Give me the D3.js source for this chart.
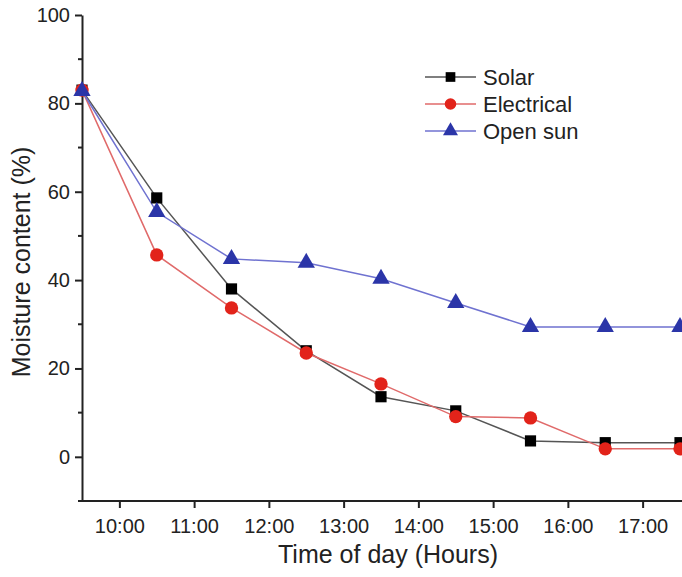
<!DOCTYPE html>
<html>
<head>
<meta charset="utf-8">
<script src="https://cdn.jsdelivr.net/npm/d3@7"></script>
<style>
  body { margin: 0; background: #fff; }
  svg { font-family: "Liberation Sans", Arial, sans-serif; }
</style>
</head>
<body>
<div id="chart"></div>
<script>
// data
var hours = [9.5, 10.5, 11.5, 12.5, 13.5, 14.5, 15.5, 16.5, 17.5];
var solar = [83, 58.6, 38, 24, 13.6, 10.4, 3.6, 3.2, 3.2];
var electrical = [83, 45.7, 33.7, 23.5, 16.5, 9.1, 8.8, 1.8, 1.8];
var openSun = [82.8, 55.4, 44.8, 43.9, 40.3, 34.8, 29.4, 29.4, 29.4];
var xTicks = [10, 11, 12, 13, 14, 15, 16, 17];
var xTickLabels = ["10:00", "11:00", "12:00", "13:00", "14:00", "15:00", "16:00", "17:00"];
var yTicks = [0, 20, 40, 60, 80, 100];
var yMinor = [-10, 10, 30, 50, 70, 90];

var series = [
  { name: "Solar", values: solar, line: "#555", fill: "#000", shape: d3.symbolSquare, size: 125 },
  { name: "Electrical", values: electrical, line: "#e06a6a", fill: "#e2231a", shape: d3.symbolCircle, size: 140 },
  { name: "Open sun", values: openSun, line: "#6f72d0", fill: "#2b35a8", shape: d3.symbolTriangle, size: 130 }
];

var width = 682, height = 577;
var margin = { top: 15, right: 2, bottom: 76, left: 82 };

var svg = d3.select("#chart").append("svg")
  .attr("width", width)
  .attr("height", height);

var x = d3.scaleLinear()
  .domain([9.5, 17.5])
  .range([margin.left, 680]);

var y = d3.scaleLinear()
  .domain([-10, 100])
  .range([height - margin.bottom, margin.top]);

// x axis
var xAxis = d3.axisBottom(x)
  .tickValues(xTicks)
  .tickFormat(function (d, i) { return xTickLabels[i]; })
  .tickSize(7)
  .tickSizeOuter(0)
  .tickPadding(11);

var gx = svg.append("g")
  .attr("transform", "translate(0," + y(-10) + ")")
  .call(xAxis);
gx.select(".domain").attr("stroke", "#222").attr("stroke-width", 2)
  .attr("d", "M" + (margin.left - 1) + ",0H" + width);
gx.selectAll(".tick line").attr("stroke", "#222").attr("stroke-width", 2);
gx.selectAll(".tick text").attr("font-size", 20).attr("fill", "#222");

// y axis
var yAxis = d3.axisLeft(y)
  .tickValues(yTicks)
  .tickSize(7)
  .tickSizeOuter(0)
  .tickPadding(5);

var gy = svg.append("g")
  .attr("transform", "translate(" + margin.left + ",0)")
  .call(yAxis);
gy.select(".domain").attr("stroke", "#222").attr("stroke-width", 2);
gy.selectAll(".tick line").attr("stroke", "#222").attr("stroke-width", 2);
gy.selectAll(".tick text").attr("font-size", 20).attr("fill", "#222");

// minor ticks on y
gy.selectAll(".minor")
  .data(yMinor)
  .enter().append("line")
  .attr("class", "minor")
  .attr("x1", -4).attr("x2", 0)
  .attr("y1", function (d) { return y(d); })
  .attr("y2", function (d) { return y(d); })
  .attr("stroke", "#222")
  .attr("stroke-width", 2);

// axis titles
svg.append("text")
  .attr("x", 388)
  .attr("y", 563)
  .attr("text-anchor", "middle")
  .attr("font-size", 25)
  .attr("fill", "#222")
  .text("Time of day (Hours)");

svg.append("text")
  .attr("transform", "translate(30,262) rotate(-90)")
  .attr("text-anchor", "middle")
  .attr("font-size", 25)
  .attr("fill", "#222")
  .text("Moisture content (%)");

// lines and markers
var line = d3.line()
  .x(function (d, i) { return x(hours[i]); })
  .y(function (d) { return y(d); });

series.forEach(function (s) {
  svg.append("path")
    .datum(s.values)
    .attr("fill", "none")
    .attr("stroke", s.line)
    .attr("stroke-width", 1.5)
    .attr("d", line);
});

series.forEach(function (s) {
  svg.selectAll(null)
    .data(s.values)
    .enter().append("path")
    .attr("d", d3.symbol().type(s.shape).size(s.size))
    .attr("transform", function (d, i) {
      return "translate(" + x(hours[i]) + "," + y(d) + ")";
    })
    .attr("fill", s.fill);
});

// legend
var legend = svg.append("g").attr("transform", "translate(425,77)");
series.forEach(function (s, i) {
  var g = legend.append("g").attr("transform", "translate(0," + (i * 27) + ")");
  g.append("line")
    .attr("x1", 0).attr("x2", 51)
    .attr("stroke", s.line)
    .attr("stroke-width", 1.5);
  g.append("path")
    .attr("d", d3.symbol().type(s.shape).size(s.size * 0.75))
    .attr("transform", "translate(25.5,0)")
    .attr("fill", s.fill);
  g.append("text")
    .attr("x", 58)
    .attr("y", 8)
    .attr("font-size", 22)
    .attr("fill", "#222")
    .text(s.name);
});
</script>
</body>
</html>
